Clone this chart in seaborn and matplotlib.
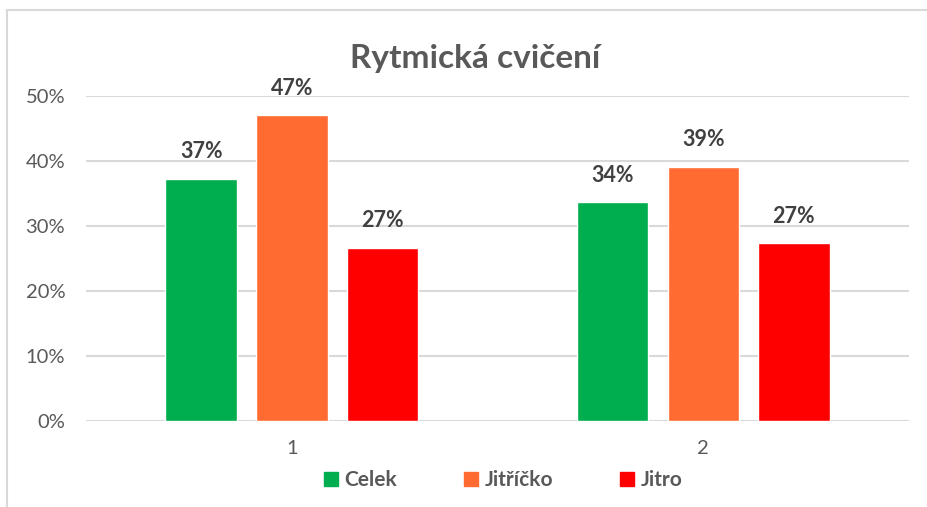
import pandas as pd
import seaborn as sns
import matplotlib
from matplotlib import pyplot as plt
from matplotlib.lines import Line2D

sns.set_theme(style="white")
plt.rcParams['font.family'] = ['Lato', 'DejaVu Sans']

# data (percent)
groups = ["1", "2"]
series = ["Celek", "Jitříčko", "Jitro"]
celek = [37.2, 33.6]
jitricko = [47.0, 39.1]
jitro = [26.6, 27.3]
colors = ["#00ad4f", "#ff6b30", "#ff0000"]

df = pd.DataFrame({
    "group": groups * 3,
    "series": [series[0]] * 2 + [series[1]] * 2 + [series[2]] * 2,
    "value": celek + jitricko + jitro,
})

fig = plt.figure(figsize=(9.27, 5.07), dpi=100)
ax = fig.add_axes([0.0928, 0.1702, 0.8878, 0.6405])

sns.barplot(data=df, x="group", y="value", hue="series", palette=colors,
            width=0.66, gap=0.21, saturation=1, ax=ax, legend=False)

ax.set_ylim(0, 50)
ax.set_xlim(-0.5, 1.5)
ax.set_yticks([0, 10, 20, 30, 40, 50])
ax.set_yticklabels([f"{v}%" for v in range(0, 60, 10)])
ax.yaxis.grid(True, color="#d9d9d9", linewidth=1.5)
ax.set_axisbelow(True)
for s in ax.spines.values():
    s.set_visible(False)
ax.set_xlabel("")
ax.set_ylabel("")
ax.tick_params(axis="y", length=0, pad=15, labelsize=14.5, labelcolor="#595959")
ax.tick_params(axis="x", length=0, pad=14, labelsize=14.5, labelcolor="#595959")

# data labels
for cont in ax.containers:
    ax.bar_label(cont, labels=[f"{b.get_height():.0f}%" for b in cont],
                 padding=12, fontsize=15.5, fontweight="bold", color="#404040")

# legend
handles = [Line2D([], [], marker="s", linestyle="", markersize=10,
                  markerfacecolor=c, markeredgecolor=c) for c in colors]
ax.legend(handles, series, loc="center", bbox_to_anchor=(0.507, -0.183), ncol=3,
          frameon=False, handlelength=0.7, handletextpad=0.3, columnspacing=3.2,
          prop={"size": 15, "weight": "bold"}, labelcolor="#595959")

fig.text(0.5124, 0.885, "Rytmická cvičení", ha="center", va="center",
         fontsize=24, fontweight="bold", color="#595959")

# chart border
fig.add_artist(Line2D([7.5 / 927, 7.5 / 927], [0, 1 - 10 / 507], transform=fig.transFigure,
                      color="#d9d9d9", linewidth=1.5))
fig.add_artist(Line2D([7.5 / 927, 1], [1 - 10 / 507, 1 - 10 / 507], transform=fig.transFigure,
                      color="#d9d9d9", linewidth=1.5))

plt.savefig("out.png", dpi=100)
